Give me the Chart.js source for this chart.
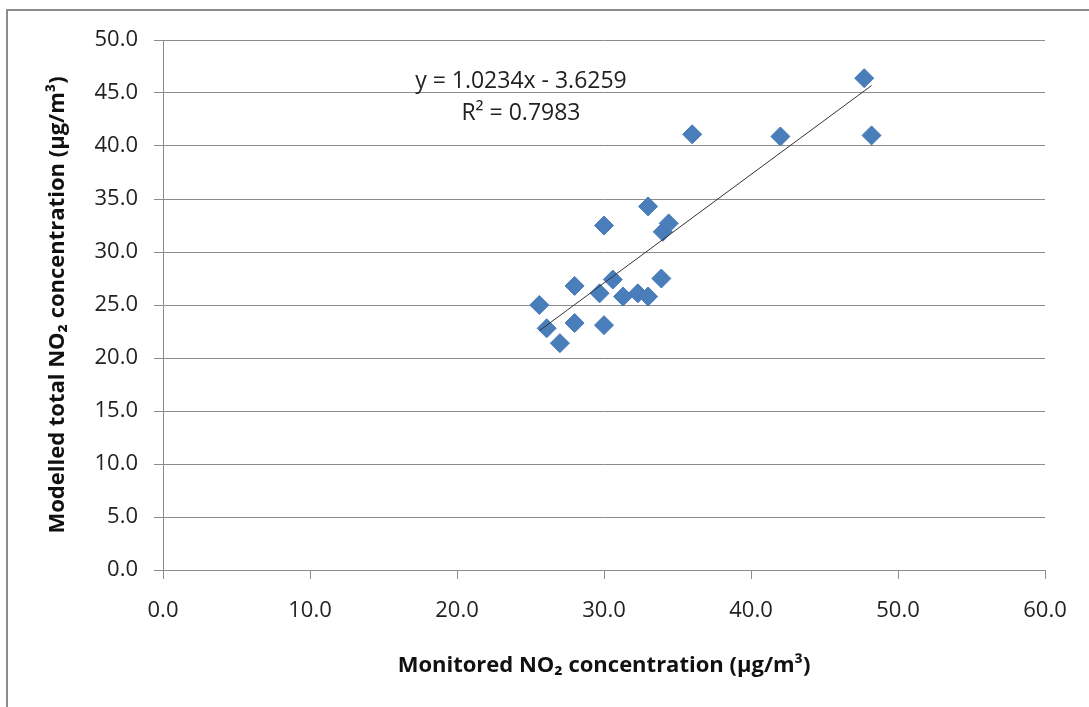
<!DOCTYPE html>
<html lang="en">
<head>
  <meta charset="UTF-8" />
  <title>Modelled vs monitored NO2</title>
  <script src="https://cdn.jsdelivr.net/npm/chart.js"></script>
  <style>
    body { margin: 0; background: #fff; }
    /* äußerer Rahmen wie im Original (nur oben und links sichtbar) */
    .frame {
      position: absolute;
      left: 6px;
      top: 9px;
      width: 1200px;
      height: 800px;
      border-left: 2px solid #8c8c8c;
      border-top: 2px solid #8c8c8c;
    }
    .wrap {
      position: absolute;
      left: 0;
      top: 0;
      width: 1089px;
      height: 707px;
    }
  </style>
</head>
<body>
  <div class="frame"></div>
  <div class="wrap"><canvas id="chart"></canvas></div>

  <script>
    // Messwerte (x) und Modellwerte (y)
    const monitored = [25.6, 26.1, 27.0, 28.0, 28.0, 29.7, 30.0, 30.0, 30.6, 31.3,
                       32.3, 33.0, 33.0, 33.9, 34.0, 34.4, 36.0, 42.0, 47.7, 48.2];
    const modelled  = [25.0, 22.8, 21.4, 26.8, 23.3, 26.1, 32.5, 23.1, 27.4, 25.8,
                       26.1, 25.8, 34.3, 27.5, 31.9, 32.7, 41.1, 40.9, 46.4, 41.0];

    // Trendlinie aus der angezeigten Gleichung
    const slope = 1.0234;
    const intercept = -3.6259;
    const equationText = 'y = 1.0234x - 3.6259';
    const r2Text = 'R² = 0.7983';

    const xTicks = [0, 10, 20, 30, 40, 50, 60];
    const yTicks = [0, 5, 10, 15, 20, 25, 30, 35, 40, 45, 50];

    const points = monitored.map((x, i) => ({ x: x, y: modelled[i] }));
    const xMin = Math.min(...monitored);
    const xMax = Math.max(...monitored);
    const trend = [
      { x: xMin, y: slope * xMin + intercept },
      { x: xMax, y: slope * xMax + intercept }
    ];

    const FONT = "'Open Sans', 'DejaVu Sans', sans-serif";

    // Gleichung und R² als Text über dem Diagramm
    const equationPlugin = {
      id: 'equation',
      afterDatasetsDraw(chart) {
        const { ctx, scales } = chart;
        const cx = scales.x.getPixelForValue(24.35);
        ctx.save();
        ctx.fillStyle = '#222';
        ctx.font = '23px ' + FONT;
        ctx.textAlign = 'center';
        ctx.textBaseline = 'middle';
        ctx.fillText(equationText, cx, scales.y.getPixelForValue(46.1));
        ctx.fillText(r2Text, cx, scales.y.getPixelForValue(43.1));
        ctx.restore();
      }
    };

    new Chart(document.getElementById('chart'), {
      type: 'scatter',
      data: {
        datasets: [
          {
            type: 'line',
            label: 'Trend',
            data: trend,
            borderColor: '#333',
            borderWidth: 1,
            pointRadius: 0,
            fill: false,
            order: 0
          },
          {
            label: 'NO2',
            data: points,
            pointStyle: 'rectRot',
            pointRadius: 9.5,
            pointHoverRadius: 9.5,
            backgroundColor: '#4a7ebb',
            borderColor: '#4679b6',
            borderWidth: 1,
            order: 1
          }
        ]
      },
      options: {
        responsive: true,
        maintainAspectRatio: false,
        animation: false,
        layout: { padding: { left: 8, top: 40, right: 44, bottom: 0 } },
        plugins: {
          legend: { display: false },
          tooltip: { enabled: false }
        },
        scales: {
          x: {
            type: 'linear',
            min: 0,
            max: 60,
            afterBuildTicks: (scale) => { scale.ticks = xTicks.map(v => ({ value: v })); },
            afterFit: (scale) => { scale.height = 137; },
            ticks: {
              color: '#222',
              font: { family: FONT, size: 22 },
              padding: 19,
              callback: (v) => v.toFixed(1)
            },
            grid: {
              drawOnChartArea: false,
              drawTicks: true,
              tickLength: 9,
              color: '#8c8c8c'
            },
            border: { color: '#8c8c8c', width: 1 },
            title: {
              display: true,
              text: 'Monitored NO₂ concentration (µg/m³)',
              color: '#111',
              font: { family: FONT, size: 22, weight: 'bold' },
              padding: { top: 0, bottom: 28 }
            }
          },
          y: {
            type: 'linear',
            min: 0,
            max: 50,
            afterBuildTicks: (scale) => { scale.ticks = yTicks.map(v => ({ value: v })); },
            afterFit: (scale) => { scale.width = 155; },
            ticks: {
              color: '#222',
              font: { family: FONT, size: 22 },
              padding: 16,
              callback: (v) => v.toFixed(1)
            },
            grid: {
              color: '#8c8c8c',
              tickLength: 9,
              lineWidth: 1
            },
            border: { color: '#8c8c8c', width: 1 },
            title: {
              display: true,
              text: 'Modelled total NO₂ concentration (µg/m³)',
              color: '#111',
              font: { family: FONT, size: 22, weight: 'bold' },
              padding: { top: 37, bottom: 0 }
            }
          }
        }
      },
      plugins: [equationPlugin]
    });
  </script>
</body>
</html>
